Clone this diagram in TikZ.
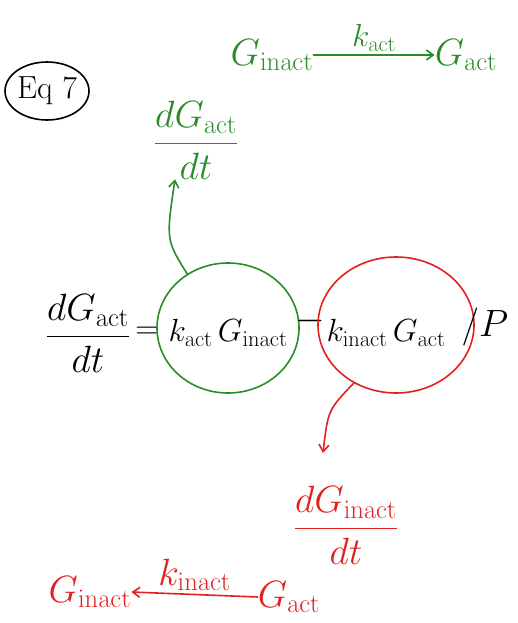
\RequirePackage{fix-cm}
\documentclass[tikz,border=0pt]{standalone}
\usetikzlibrary{shapes.geometric,arrows.meta}
\definecolor{hgreen}{RGB}{40,140,40}
\definecolor{hred}{RGB}{226,32,32}
\tikzset{
  hw/.style={inner sep=0pt, font=\fontsize{38}{44}\selectfont},
  hwsmall/.style={inner sep=0pt, font=\fontsize{32}{38}\selectfont},
  ink/.style={line width=1.6pt, line cap=round},
  ring/.style={ellipse, draw, ink, inner sep=0pt},
}
\begin{document}
\begin{tikzpicture}[x=1pt,y=-1pt,>={Straight Barb[length=7pt,width=10pt]}]
\useasboundingbox (0,0) rectangle (517,623);

% label
\node[hwsmall] (eq) at (47,91) {Eq 7};
\node[ring, minimum width=84pt, minimum height=58pt] (eqring) at (47,91) {};

% activation (green)
\node[hw, text=hgreen] (gin) at (272,55) {$G_{\mathrm{inact}}$};
\node[hw, text=hgreen] (gac) at (466,55) {$G_{\mathrm{act}}$};
\draw[ink, hgreen, ->] (gin.east) -- (gac.west)
  node[midway, above=3pt, hwsmall] {$k_{\mathrm{act}}$};
\node[hw, text=hgreen] (gfrac) at (196,140) {$\displaystyle\frac{dG_{\mathrm{act}}}{dt}$};

% rate equation
\node[hw] (lhs) at (88,333) {$\displaystyle\frac{dG_{\mathrm{act}}}{dt}$};
\node[hwsmall] (eqsign) at (147,333) {$=$};
\node[ring, hgreen, minimum width=142pt, minimum height=130pt] (gcirc) at (228,328) {};
\node[hwsmall] (gterm) at (228,333) {$k_{\mathrm{act}}\,G_{\mathrm{inact}}$};
\node[hw] (minus) at (310,321) {$-$};
\node[ring, hred, minimum width=156pt, minimum height=136pt] (rcirc) at (396,325) {};
\node[hwsmall] (rterm) at (386,333) {$k_{\mathrm{inact}}\,G_{\mathrm{act}}$};
\node[hw] (perp) at (485,327) {$\big/P$};

\draw[ink, hgreen, ->] (gcirc.127) .. controls (166,240) .. (gfrac.south -| 175,0);

% inactivation (red)
\node[hw, text=hred] (rfrac) at (346,525) {$\displaystyle\frac{dG_{\mathrm{inact}}}{dt}$};
\draw[ink, hred, ->] (rcirc.-126) .. controls (328,410) .. (323,453);
\node[hw, text=hred] (gin2) at (90,592) {$G_{\mathrm{inact}}$};
\node[hw, text=hred] (gac2) at (289,597) {$G_{\mathrm{act}}$};
\draw[ink, hred, ->] (gac2.west) -- (gin2.east)
  node[midway, above=3pt, hw] {$k_{\mathrm{inact}}$};
\end{tikzpicture}
\end{document}
